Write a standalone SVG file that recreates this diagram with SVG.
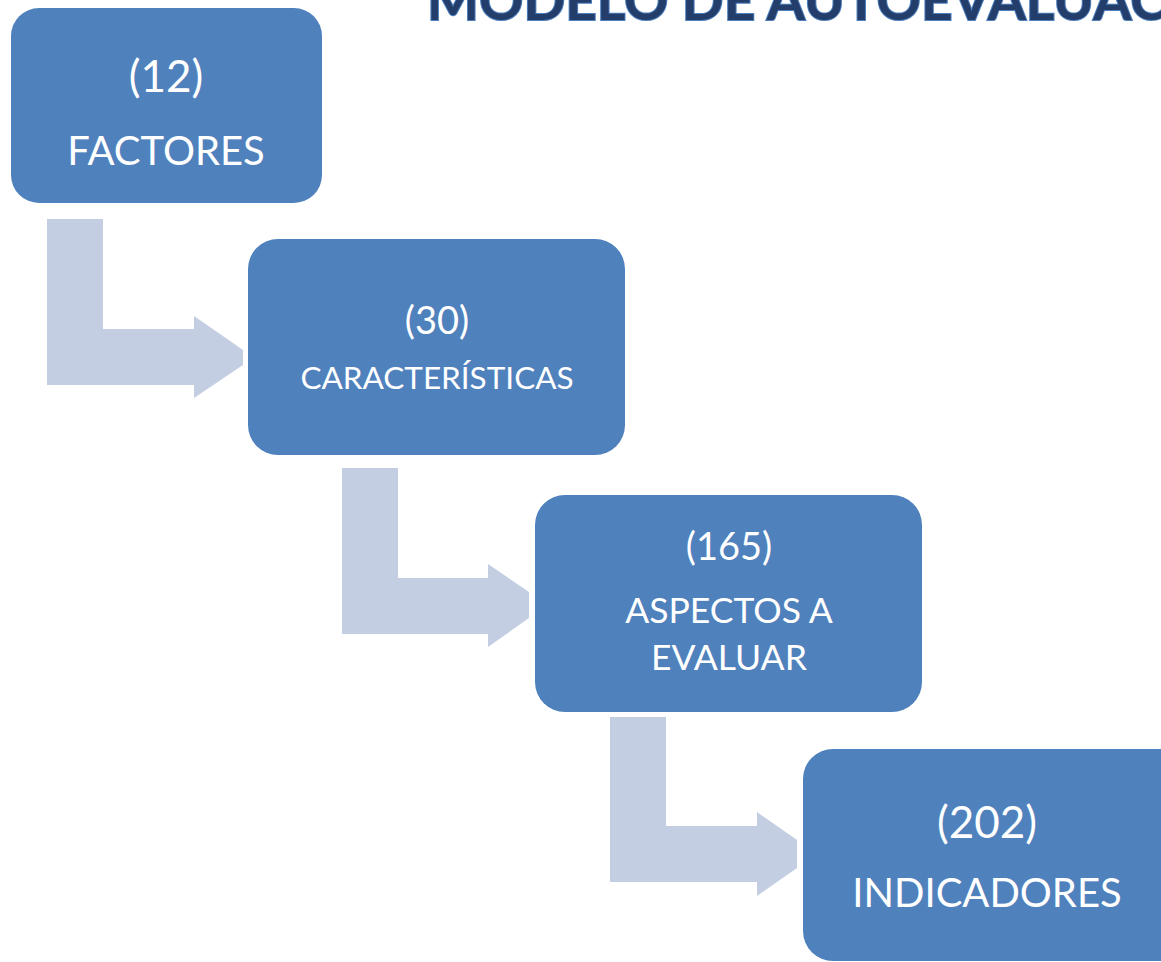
<svg xmlns="http://www.w3.org/2000/svg" width="1161" height="962" viewBox="0 0 1161 962">
<style>
.box{fill:#4F81BD;}
.arrow{fill:#C3CEE3;}
.t{fill:#FFFFFF;font-family:Lato,"Open Sans",sans-serif;text-anchor:middle;}
.title{font-family:Lato,"Open Sans",sans-serif;font-weight:bold;font-size:55px;fill:#233E6B;stroke:#4F81BD;stroke-width:2px;paint-order:stroke;}
</style>
<rect width="1161" height="962" fill="#FFFFFF"/>
<text class="title" x="427" y="20">MODELO DE AUTOEVALUACIÓN</text>
<g id="connectors">
<polygon class="arrow" points="47,219 103,219 103,329 194,329 194,316 243,350 243,365 194,398 194,385 47,385"/>
<polygon class="arrow" points="342,468 398,468 398,578 488,578 488,564 529,592 529,618 488,647 488,634 342,634"/>
<polygon class="arrow" points="610,717 666,717 666,826 757,826 757,812 797,840 797,868 757,896 757,882 610,882"/>
</g>
<g id="node-factores">
<rect class="box" x="11" y="8" width="311" height="195" rx="28"/>
<text class="t" x="166" y="92" font-size="44">(12)</text>
<text class="t" x="166" y="165" font-size="40">FACTORES</text>
</g>
<g id="node-caracteristicas">
<rect class="box" x="248" y="239" width="377" height="216" rx="30"/>
<text class="t" x="437" y="334" font-size="38">(30)</text>
<text class="t" x="437" y="389" font-size="31.5">CARACTERÍSTICAS</text>
</g>
<g id="node-aspectos">
<rect class="box" x="535" y="495" width="387" height="217" rx="30"/>
<text class="t" x="729" y="560" font-size="38">(165)</text>
<text class="t" x="729" y="623" font-size="35.5">ASPECTOS A</text>
<text class="t" x="729" y="670" font-size="35.5">EVALUAR</text>
</g>
<g id="node-indicadores">
<rect class="box" x="803" y="749" width="400" height="212" rx="30"/>
<text class="t" x="987" y="838" font-size="44">(202)</text>
<text class="t" x="987" y="907" font-size="40">INDICADORES</text>
</g>
</svg>
